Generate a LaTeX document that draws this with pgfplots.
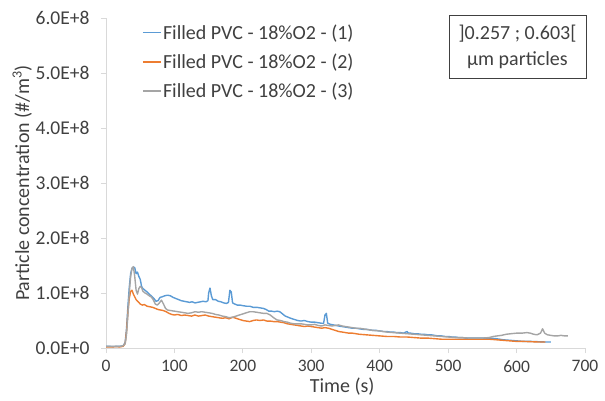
\documentclass[border=0pt]{standalone}
\usepackage{pgfplots}
\pgfplotsset{compat=1.18}
\usepackage{fontspec}
\setmainfont{Carlito}
\definecolor{cblue}{HTML}{5B9BD5}
\definecolor{corange}{HTML}{ED7D31}
\definecolor{cgray}{HTML}{A5A5A5}
\definecolor{caxis}{HTML}{D9D9D9}
\definecolor{ctext}{HTML}{404040}
\begin{document}
\begin{tikzpicture}
\path[use as bounding box] (0,0) rectangle (605bp,401bp);
\begin{axis}[
  at={(106bp,53bp)}, anchor=south west,
  scale only axis, width=479bp, height=330bp,
  xmin=0, xmax=700, ymin=0, ymax=6,
  xtick={0,100,...,700}, ytick={0,1,...,6},
  yticklabels={0.0E+0,1.0E+8,2.0E+8,3.0E+8,4.0E+8,5.0E+8,6.0E+8},
  axis x line*=bottom, axis y line*=left,
  axis line style={caxis, line width=0.75bp},
  tick style={caxis, line width=0.75bp},
  tick align=outside, major tick length=5bp,
  x axis line style={-}, y axis line style={-},
  /pgf/number format/assume math mode=true,
  tick label style={text=ctext},
  xticklabel style={font=\fontsize{17.5bp}{20bp}\selectfont, yshift=-4bp},
  yticklabel style={font=\fontsize{19.5bp}{22bp}\selectfont, xshift=-8bp},
  xlabel={Time (s)},
  ylabel={Particle concentration (\#/m\textsuperscript{3})},
  xlabel style={at={(rel axis cs:0.493,-0.118)}, anchor=center, font=\fontsize{20bp}{24bp}\selectfont, text=ctext},
  ylabel style={at={(rel axis cs:-0.175,0.5)}, anchor=center, rotate=0, font=\fontsize{20bp}{24bp}\selectfont, text=ctext},
  legend style={at={(rel axis cs:0.075,0.985)}, anchor=north west, draw=none, fill=none,
    font=\fontsize{20bp}{24bp}\selectfont, text=ctext, row sep=10bp, inner sep=0pt,
    nodes={inner sep=1.5bp}},
  legend cell align=left,
  legend image code/.code={\draw[#1] (0bp,0bp) -- (18bp,0bp);},
  every axis plot/.append style={line width=1.4bp, line join=round},
]
\addplot[cblue] coordinates {
(0,0.03) (5,0.03) (10,0.025) (15,0.03) (20,0.03) (25,0.04) (28,0.1) (30,0.35) (32,0.75) (34,1.1) (36,1.35) (38,1.45) (40,1.47) (42,1.46) (44,1.35) (46,1.38) (48,1.30) (50,1.25) (52,1.12) (54,1.08) (57,1.05) (60,1.02) (63,0.98) (66,0.95) (70,0.90) (73,0.85) (76,0.86) (79,0.92) (82,0.93) (86,0.95) (90,0.96) (94,0.95) (98,0.92) (102,0.90) (106,0.88) (110,0.86) (114,0.85) (118,0.84) (122,0.83) (126,0.84) (130,0.82) (134,0.83) (138,0.84) (142,0.85) (146,0.84) (149,0.86) (150,1.0) (152,1.09) (154,0.95) (156,0.88) (160,0.88) (164,0.85) (168,0.84) (172,0.82) (176,0.81) (179,0.83) (181,1.05) (183,1.02) (185,0.82) (188,0.80) (192,0.78) (196,0.78) (200,0.77) (205,0.76) (210,0.76) (215,0.74) (220,0.74) (225,0.73) (230,0.72) (234,0.70) (238,0.67) (242,0.67) (246,0.66) (250,0.67) (254,0.66) (258,0.62) (262,0.58) (266,0.56) (270,0.54) (275,0.52) (280,0.50) (285,0.49) (290,0.50) (295,0.48) (300,0.47) (305,0.47) (310,0.46) (315,0.45) (318,0.45) (320,0.60) (322,0.63) (324,0.45) (328,0.43) (332,0.42) (336,0.41) (340,0.40) (345,0.39) (350,0.38) (355,0.37) (360,0.36) (365,0.36) (370,0.35) (375,0.34) (380,0.34) (385,0.33) (390,0.32) (395,0.32) (400,0.31) (405,0.30) (410,0.30) (415,0.29) (420,0.29) (425,0.28) (430,0.28) (435,0.27) (440,0.30) (442,0.27) (445,0.27) (450,0.26) (455,0.26) (460,0.25) (465,0.25) (470,0.24) (475,0.24) (480,0.23) (485,0.22) (490,0.22) (495,0.21) (500,0.21) (505,0.20) (510,0.20) (515,0.19) (520,0.19) (525,0.18) (530,0.18) (540,0.18) (550,0.18) (560,0.18) (570,0.17) (575,0.16) (580,0.15) (590,0.14) (600,0.13) (610,0.12) (620,0.12) (630,0.115) (640,0.11) (650,0.11)
};
\addlegendentry{Filled PVC - 18\%O2 - (1)}
\addplot[corange] coordinates {
(0,0.02) (5,0.02) (10,0.02) (15,0.025) (20,0.02) (25,0.03) (28,0.08) (30,0.3) (32,0.65) (34,0.9) (36,1.03) (38,1.05) (40,0.98) (42,0.93) (44,0.88) (47,0.84) (50,0.80) (53,0.78) (56,0.79) (60,0.76) (64,0.75) (68,0.74) (72,0.72) (76,0.70) (80,0.69) (84,0.68) (88,0.66) (92,0.63) (96,0.61) (100,0.60) (105,0.61) (110,0.59) (115,0.60) (120,0.59) (125,0.58) (130,0.60) (135,0.58) (140,0.59) (145,0.60) (150,0.58) (155,0.57) (160,0.56) (165,0.55) (170,0.54) (175,0.55) (180,0.53) (185,0.56) (190,0.54) (195,0.52) (200,0.50) (205,0.49) (210,0.48) (215,0.50) (220,0.51) (225,0.50) (230,0.51) (235,0.49) (240,0.49) (245,0.48) (250,0.48) (255,0.47) (260,0.46) (265,0.44) (270,0.43) (275,0.42) (280,0.41) (285,0.40) (290,0.39) (295,0.40) (300,0.39) (305,0.38) (310,0.37) (315,0.36) (320,0.37) (325,0.36) (330,0.34) (335,0.32) (340,0.30) (345,0.29) (350,0.28) (355,0.27) (360,0.27) (365,0.26) (370,0.25) (380,0.24) (390,0.23) (400,0.22) (410,0.21) (420,0.21) (430,0.20) (440,0.20) (450,0.19) (460,0.18) (470,0.18) (480,0.17) (490,0.16) (500,0.16) (510,0.16) (520,0.16) (530,0.16) (540,0.16) (550,0.16) (560,0.16) (570,0.15) (580,0.14) (590,0.13) (600,0.12) (610,0.12) (620,0.115) (630,0.11) (642,0.11)
};
\addlegendentry{Filled PVC - 18\%O2 - (2)}
\addplot[cgray] coordinates {
(0,0.03) (5,0.03) (10,0.03) (15,0.03) (20,0.03) (25,0.04) (28,0.08) (30,0.25) (32,0.6) (34,1.0) (36,1.3) (38,1.45) (40,1.48) (42,1.30) (44,1.05) (46,0.98) (48,1.08) (50,1.12) (52,1.10) (54,1.03) (57,1.00) (60,0.98) (63,0.95) (66,0.93) (69,0.88) (72,0.80) (75,0.78) (78,0.82) (81,0.87) (84,0.80) (87,0.72) (90,0.69) (95,0.68) (100,0.67) (105,0.66) (110,0.65) (115,0.64) (120,0.63) (125,0.64) (130,0.66) (135,0.65) (140,0.66) (145,0.65) (150,0.64) (155,0.63) (160,0.61) (165,0.60) (170,0.58) (175,0.57) (180,0.55) (185,0.56) (190,0.58) (195,0.60) (200,0.62) (205,0.64) (210,0.66) (215,0.66) (220,0.65) (225,0.64) (230,0.63) (235,0.63) (240,0.60) (245,0.55) (250,0.51) (255,0.50) (260,0.48) (265,0.47) (270,0.45) (275,0.44) (280,0.44) (285,0.44) (290,0.43) (295,0.42) (300,0.42) (305,0.43) (310,0.41) (315,0.40) (320,0.42) (325,0.41) (330,0.40) (335,0.41) (340,0.42) (345,0.40) (350,0.39) (355,0.38) (360,0.37) (365,0.36) (370,0.36) (375,0.35) (380,0.34) (390,0.32) (400,0.31) (410,0.29) (420,0.28) (430,0.27) (440,0.26) (450,0.25) (460,0.24) (470,0.23) (480,0.22) (490,0.21) (500,0.20) (510,0.19) (520,0.19) (530,0.18) (540,0.18) (550,0.18) (560,0.19) (566,0.21) (572,0.22) (578,0.23) (585,0.25) (592,0.26) (600,0.27) (608,0.27) (615,0.28) (620,0.27) (625,0.25) (630,0.24) (635,0.27) (638,0.35) (641,0.27) (645,0.24) (650,0.23) (655,0.22) (660,0.22) (665,0.23) (670,0.22) (675,0.22)
};
\addlegendentry{Filled PVC - 18\%O2 - (3)}
\end{axis}
\node[draw=black!75, line width=0.75bp, minimum width=137bp, minimum height=63bp, align=center,
  font=\fontsize{20bp}{26bp}\selectfont, text=ctext, inner sep=0pt] at (517.5bp,354.5bp)
  {]0.257 ; 0.603[\\µm particles};
\end{tikzpicture}
\end{document}
